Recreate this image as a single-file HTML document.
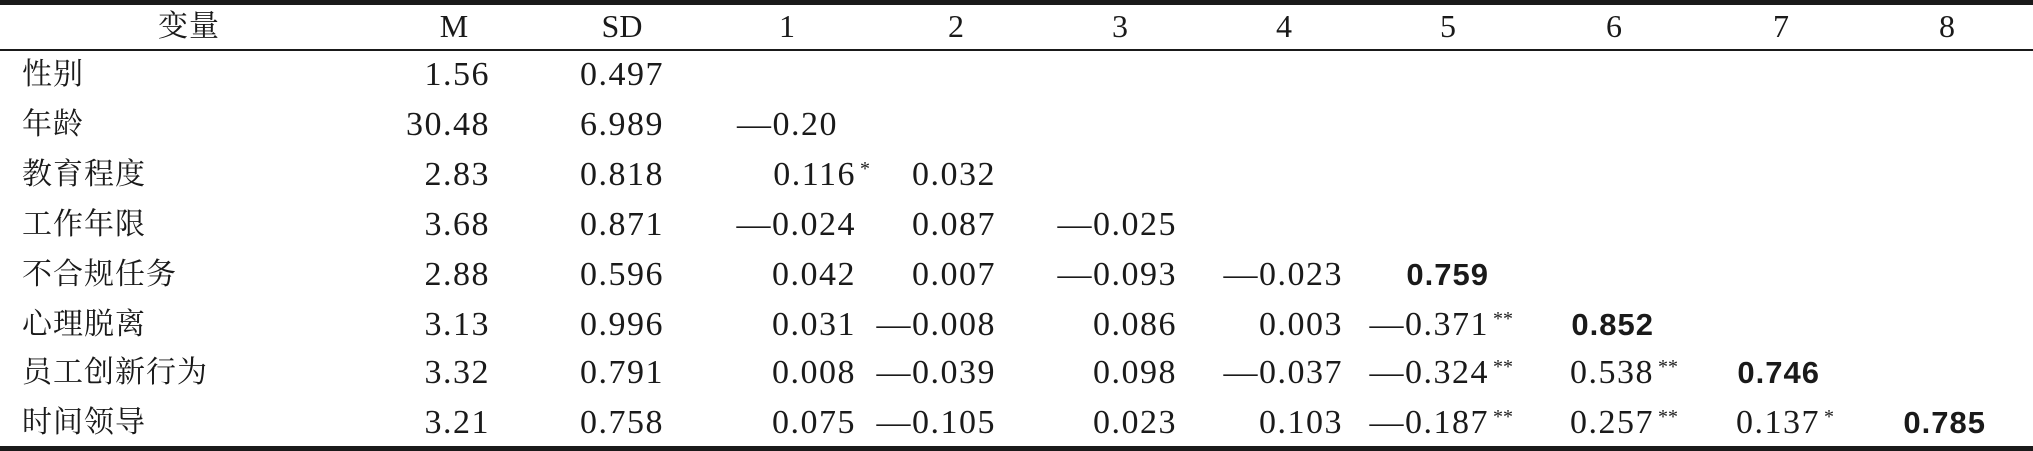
<!DOCTYPE html>
<html><head><meta charset="utf-8">
<style>
html,body{margin:0;padding:0;background:#fff;}
#t{position:relative;width:2033px;height:451px;overflow:hidden;background:#fff;color:#1a1a1a;
font-family:"Liberation Serif","Noto Serif CJK SC",serif;}
.rule{position:absolute;left:0;width:2033px;background:#1a1a1a;}
.c{position:absolute;white-space:nowrap;font-size:34px;line-height:40px;letter-spacing:1.5px;}
.lab{font-family:"Noto Serif CJK SC","Noto Sans CJK SC",serif;font-size:30px;letter-spacing:1px;}
.hd{font-size:32px;}
.b{font-weight:bold;font-family:"Liberation Sans",sans-serif;font-size:31px;letter-spacing:1px;}
.st{position:absolute;font-size:20px;line-height:20px;top:4px;letter-spacing:0;}
</style></head>
<body>
<div id="t">
<div class="rule" style="top:0;height:5px"></div>
<div class="rule" style="top:49px;height:2px"></div>
<div class="rule" style="top:446px;height:5px"></div>
</div>
<script>
const headers=["M","SD","1","2","3","4","5","6","7","8"];
const headerCenters=[454,622,787,956,1120,1284,1448,1614,1781,1947];
const colRight=[490,664,856,996,1177,1343,1489,1654,1820,1986];
const rowLabels=["性别","年龄","教育程度","工作年限","不合规任务","心理脱离","员工创新行为","时间领导"];
const rowY=[75,125,175,225,275,325,373,423];
const cells=[
["1.56","0.497"],
["30.48","6.989","—0.20 "],
["2.83","0.818","0.116*","0.032"],
["3.68","0.871","—0.024","0.087","—0.025"],
["2.88","0.596","0.042","0.007","—0.093","—0.023","!0.759"],
["3.13","0.996","0.031","—0.008","0.086","0.003","—0.371**","!0.852"],
["3.32","0.791","0.008","—0.039","0.098","—0.037","—0.324**","0.538**","!0.746"],
["3.21","0.758","0.075","—0.105","0.023","0.103","—0.187**","0.257**","0.137*","!0.785"]
];
const t=document.getElementById('t');
const h=document.createElement('div');
h.className='c lab';h.textContent='变量';
h.style.left='158px';h.style.top='3px';


t.appendChild(h);
headers.forEach((s,i)=>{
 const d=document.createElement('div');
 d.className='c hd';d.textContent=s;
 d.style.left=(headerCenters[i]-100)+'px';d.style.width='200px';d.style.textAlign='center';d.style.top='6px';d.style.letterSpacing='0';
 
 
 t.appendChild(d);
});
rowLabels.forEach((s,r)=>{
 const d=document.createElement('div');
 d.className='c lab';d.textContent=s;
 d.style.left='22px';d.style.top=(rowY[r]-24)+'px';
 
 
 t.appendChild(d);
 cells[r].forEach((v,c)=>{
  let bold=false,txt=v,stars='';
  if(txt[0]==='!'){bold=true;txt=txt.slice(1);}
  const m=txt.match(/\*+$/);if(m){stars=m[0];txt=txt.slice(0,-stars.length);}
  let pad=0;if(txt.endsWith(' ')){txt=txt.trim();pad=18;}
  const d=document.createElement('div');
  d.className='c'+(bold?' b':'');
  d.textContent=txt;
  d.style.right=(2033-colRight[c]+pad)+'px';
  d.style.top=(rowY[r]-20)+'px';
  
  
  if(stars){
   const s=document.createElement('span');
   s.className='st';s.textContent=stars;
   s.style.left='100%';s.style.marginLeft='4px';
   
   
   d.appendChild(s);
  }
  t.appendChild(d);
 });
});
</script>
</body></html>
